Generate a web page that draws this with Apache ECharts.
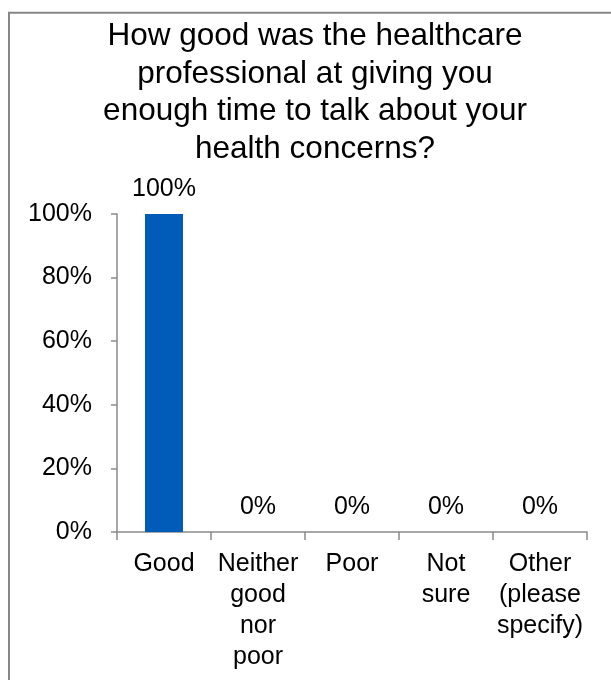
<!DOCTYPE html>
<html>
<head>
<meta charset="utf-8">
<script src="https://cdn.jsdelivr.net/npm/echarts@6/dist/echarts.min.js"></script>
<style>
  html, body { margin: 0; padding: 0; background: #fff; }
  body { width: 611px; height: 680px; overflow: hidden; position: relative; }
  #chart { position: absolute; left: 0; top: 0; width: 630px; height: 700px; }
</style>
</head>
<body>
<div id="chart"></div>
<script>
// Survey question and answer options
const titleText = 'How good was the healthcare\nprofessional at giving you\nenough time to talk about your\nhealth concerns?';
const categories = ['Good', 'Neither good nor poor', 'Poor', 'Not sure', 'Other (please specify)'];
// Share of respondents per answer, in percent
const percentValues = [100, 0, 0, 0, 0];
// Value axis ticks
const yTicks = [0, 20, 40, 60, 80, 100];

const FONT = 'Liberation Sans, Arial, sans-serif';
const chart = echarts.init(document.getElementById('chart'), null, { renderer: 'canvas' });

chart.setOption({
  backgroundColor: '#ffffff',
  animation: false,
  title: {
    text: titleText,
    left: 'center',
    top: 18,
    padding: 0,
    textStyle: {
      fontFamily: FONT,
      fontSize: 31.5,
      fontWeight: 'normal',
      color: '#000000',
      lineHeight: 37.5
    }
  },
  graphic: [{
    type: 'rect',
    shape: { x: 9, y: 12.7, width: 612, height: 700 },
    style: { fill: null, stroke: '#878787', lineWidth: 2 },
    silent: true
  }],
  grid: { left: 117, right: 43, top: 214, bottom: 168 },
  xAxis: {
    type: 'category',
    data: categories,
    axisLine: { lineStyle: { color: '#8a8a8a', width: 1.5 } },
    axisTick: { show: true, length: 8, lineStyle: { color: '#8a8a8a', width: 1.5 } },
    axisLabel: {
      interval: 0,
      margin: 17,
      fontFamily: FONT,
      fontSize: 25,
      lineHeight: 31,
      color: '#000000',
      formatter: v => v.split(' ').join('\n')
    }
  },
  yAxis: {
    type: 'value',
    min: yTicks[0],
    max: yTicks[yTicks.length - 1],
    interval: yTicks[1] - yTicks[0],
    splitLine: { show: false },
    axisLine: { show: true, lineStyle: { color: '#8a8a8a', width: 1.5 } },
    axisTick: { show: true, length: 6, lineStyle: { color: '#8a8a8a', width: 1.5 } },
    axisLabel: {
      margin: 25,
      fontFamily: FONT,
      fontSize: 25,
      color: '#000000',
      formatter: '{value}%'
    }
  },
  series: [{
    type: 'bar',
    data: percentValues,
    barWidth: 38,
    itemStyle: { color: '#005CB8' },
    label: {
      show: true,
      position: 'top',
      distance: 12,
      fontFamily: FONT,
      fontSize: 25,
      color: '#000000',
      formatter: p => p.value + '%'
    }
  }]
});
</script>
</body>
</html>
